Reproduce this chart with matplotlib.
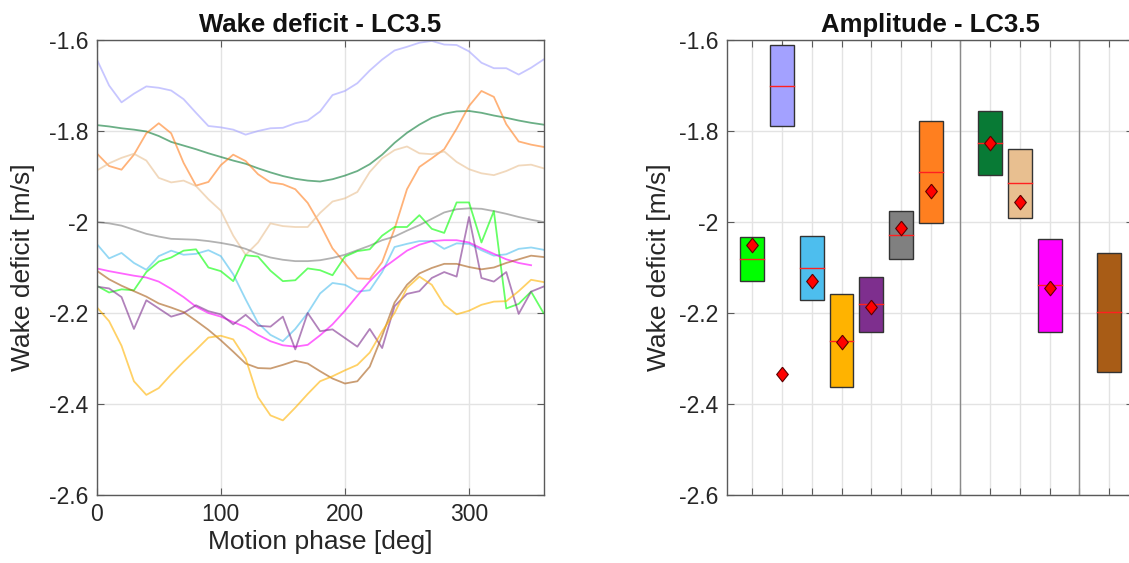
import numpy as np
import matplotlib
matplotlib.use("Agg")
import matplotlib.pyplot as plt
from matplotlib.ticker import FuncFormatter
from matplotlib.patches import Rectangle

plt.rcParams['font.family'] = ['Liberation Sans', 'DejaVu Sans']

# ---- phase-resolved wake deficit (m/s), sampled every 10 deg ----
phase = np.arange(0, 361, 10)

wd_lavender = [-1.642, -1.700, -1.737, -1.718, -1.702, -1.705, -1.711, -1.730, -1.760, -1.789,
               -1.792, -1.797, -1.808, -1.800, -1.794, -1.793, -1.783, -1.777, -1.757, -1.721,
               -1.712, -1.695, -1.667, -1.643, -1.623, -1.615, -1.606, -1.602, -1.610, -1.611,
               -1.625, -1.650, -1.662, -1.662, -1.676, -1.661, -1.643]
wd_darkgreen = [-1.787, -1.790, -1.794, -1.797, -1.801, -1.811, -1.824, -1.832, -1.840, -1.849,
                -1.857, -1.865, -1.872, -1.882, -1.891, -1.899, -1.905, -1.909, -1.911, -1.906,
                -1.898, -1.888, -1.873, -1.852, -1.826, -1.804, -1.786, -1.771, -1.762, -1.757,
                -1.756, -1.760, -1.766, -1.771, -1.777, -1.782, -1.786]
wd_orange = [-1.849, -1.877, -1.885, -1.852, -1.805, -1.783, -1.805, -1.870, -1.920, -1.912,
             -1.875, -1.852, -1.866, -1.895, -1.913, -1.917, -1.928, -1.958, -2.005, -2.058,
             -2.090, -2.124, -2.125, -2.088, -2.015, -1.928, -1.879, -1.860, -1.840, -1.795,
             -1.745, -1.712, -1.725, -1.785, -1.823, -1.830, -1.835]
wd_tan = [-1.887, -1.871, -1.859, -1.850, -1.865, -1.903, -1.913, -1.909, -1.921, -1.950,
          -1.975, -2.030, -2.072, -2.045, -2.003, -2.009, -2.011, -2.011, -1.980, -1.955,
          -1.948, -1.934, -1.890, -1.860, -1.842, -1.834, -1.849, -1.851, -1.845, -1.868,
          -1.884, -1.893, -1.897, -1.888, -1.876, -1.874, -1.882]
wd_gray = [-2.000, -2.003, -2.008, -2.017, -2.026, -2.032, -2.037, -2.038, -2.039, -2.042,
           -2.046, -2.051, -2.059, -2.070, -2.078, -2.083, -2.086, -2.086, -2.084, -2.079,
           -2.072, -2.062, -2.052, -2.040, -2.032, -2.019, -2.007, -1.993, -1.979, -1.972,
           -1.970, -1.971, -1.976, -1.982, -1.989, -1.995, -2.000]
wd_skyblue = [-2.048, -2.080, -2.068, -2.090, -2.105, -2.075, -2.063, -2.072, -2.070, -2.062,
              -2.075, -2.115, -2.170, -2.222, -2.248, -2.262, -2.235, -2.200, -2.157, -2.134,
              -2.138, -2.153, -2.150, -2.110, -2.055, -2.048, -2.042, -2.042, -2.059, -2.047,
              -2.048, -2.062, -2.074, -2.071, -2.059, -2.056, -2.061]
wd_green = [-2.140, -2.155, -2.148, -2.150, -2.110, -2.087, -2.078, -2.063, -2.060, -2.100,
            -2.108, -2.130, -2.073, -2.076, -2.107, -2.130, -2.128, -2.102, -2.106, -2.117,
            -2.076, -2.064, -2.060, -2.030, -2.011, -2.011, -1.985, -2.015, -2.024, -1.957,
            -1.957, -2.045, -1.976, -2.190, -2.180, -2.153, -2.200]
wd_magenta = [-2.102, -2.108, -2.113, -2.118, -2.122, -2.131, -2.147, -2.165, -2.186, -2.200,
              -2.208, -2.220, -2.231, -2.248, -2.262, -2.271, -2.274, -2.270, -2.249, -2.225,
              -2.195, -2.162, -2.130, -2.103, -2.083, -2.063, -2.050, -2.042, -2.040, -2.040,
              -2.045, -2.058, -2.070, -2.082, -2.090, -2.095, np.nan]
wd_purple = [-2.142, -2.146, -2.165, -2.235, -2.172, -2.190, -2.208, -2.200, -2.183, -2.196,
             -2.203, -2.225, -2.204, -2.228, -2.230, -2.208, -2.280, -2.200, -2.240, -2.236,
             -2.255, -2.274, -2.235, -2.277, -2.185, -2.158, -2.152, -2.123, -2.110, -2.120,
             -1.989, -2.123, -2.131, -2.110, -2.202, -2.153, -2.142]
wd_brown = [-2.107, -2.126, -2.140, -2.152, -2.164, -2.179, -2.188, -2.198, -2.217, -2.237,
            -2.260, -2.285, -2.311, -2.321, -2.322, -2.314, -2.305, -2.311, -2.328, -2.344,
            -2.355, -2.350, -2.318, -2.250, -2.177, -2.138, -2.113, -2.101, -2.092, -2.092,
            -2.099, -2.104, -2.100, -2.090, -2.082, -2.074, -2.077]
wd_yellow = [-2.187, -2.218, -2.272, -2.350, -2.380, -2.365, -2.335, -2.307, -2.281, -2.254,
             -2.250, -2.258, -2.300, -2.385, -2.425, -2.436, -2.408, -2.378, -2.350, -2.339,
             -2.326, -2.314, -2.287, -2.240, -2.200, -2.145, -2.120, -2.138, -2.182, -2.203,
             -2.195, -2.182, -2.175, -2.174, -2.152, -2.127, -2.132]

# ---- amplitude summary per case ----
case_names = ['green', 'lavender', 'skyblue', 'yellow', 'purple', 'gray', 'orange',
              'darkgreen', 'tan', 'magenta', 'brown']
case_pos = [1, 2, 3, 4, 5, 6, 7, 9, 10, 11, 13]
box_low = [-2.129, -1.788, -2.172, -2.363, -2.241, -2.081, -2.002, -1.897, -1.991, -2.242, -2.329]
box_high = [-2.034, -1.612, -2.030, -2.159, -2.120, -1.976, -1.778, -1.756, -1.839, -2.038, -2.069]
box_median = [-2.082, -1.700, -2.102, -2.262, -2.180, -2.028, -1.890, -1.827, -1.915, -2.139, -2.198]
mean_marker = [-2.051, -2.334, -2.130, -2.263, -2.186, -2.013, -1.931, -1.826, -1.957, -2.145, np.nan]
group_dividers = [8, 12]

case_colors = {
    'green': '#00FF00', 'lavender': '#A3A1FF', 'skyblue': '#4DBEEE', 'yellow': '#FFB300',
    'purple': '#7E2F8E', 'gray': '#808080', 'orange': '#FF7F1F', 'darkgreen': '#087A35',
    'tan': '#E8BF90', 'magenta': '#FF00FF', 'brown': '#A85C16',
}
series = {
    'lavender': wd_lavender, 'darkgreen': wd_darkgreen, 'orange': wd_orange, 'tan': wd_tan,
    'gray': wd_gray, 'skyblue': wd_skyblue, 'green': wd_green, 'magenta': wd_magenta,
    'purple': wd_purple, 'brown': wd_brown, 'yellow': wd_yellow,
}

W, H = 1129, 563
fig = plt.figure(figsize=(W / 100, H / 100), dpi=100)

axc = '#5a5a5a'
gridc = '#e3e3e3'
txtc = '#262626'
fmt = FuncFormatter(lambda v, p: '%g' % round(v, 2))


def style_axes(ax):
    for s in ax.spines.values():
        s.set_color(axc)
        s.set_linewidth(1.0)
    ax.tick_params(direction='in', length=5, width=0.8, colors=axc, labelcolor=txtc,
                   labelsize=16.5, top=True, right=True, pad=6)
    ax.grid(True, color=gridc, linewidth=1.0)
    ax.set_axisbelow(True)
    ax.set_ylim(-2.6, -1.6)
    ax.set_yticks(np.arange(-2.6, -1.59, 0.2))
    ax.yaxis.set_major_formatter(fmt)


# left: wake deficit vs motion phase
ax1 = fig.add_axes([96.7 / W, 1 - 495 / H, (543.5 - 96.7) / W, (495 - 40) / H])
style_axes(ax1)
for name, vals in series.items():
    ax1.plot(phase, vals, color=case_colors[name], alpha=0.6, linewidth=1.3)
ax1.set_xlim(0, 360)
ax1.set_xticks([0, 100, 200, 300])
ax1.set_xlabel('Motion phase [deg]', fontsize=19, color=txtc, labelpad=3)
ax1.set_ylabel('Wake deficit [m/s]', fontsize=19, color=txtc, labelpad=10)
ax1.set_title('Wake deficit - LC3.5', fontsize=18.5, fontweight='bold', pad=6, color='#111111')

# right: amplitude boxes
ax2 = fig.add_axes([727 / W, 1 - 495 / H, (1133 - 727) / W, (495 - 40) / H])
style_axes(ax2)
ax2.set_xlim(0.15, 13.8)
ax2.set_xticks(np.arange(1, 14))
ax2.set_xticklabels([])
for d in group_dividers:
    ax2.axvline(d, color='#8a8a8a', linewidth=1.0, zorder=1)
bw = 0.8
for name, p, lo, hi, med, mk in zip(case_names, case_pos, box_low, box_high, box_median, mean_marker):
    ax2.add_patch(Rectangle((p - bw / 2, lo), bw, hi - lo, facecolor=case_colors[name],
                            edgecolor='#333333', linewidth=1.0, zorder=3))
    ax2.plot([p - bw / 2, p + bw / 2], [med, med], color='#ff2020', linewidth=1.0, zorder=4)
    if not np.isnan(mk):
        ax2.plot([p], [mk], marker=[(0, 1), (0.8, 0), (0, -1), (-0.8, 0), (0, 1)],
                 markersize=10.5, markerfacecolor='#ff0000', markeredgecolor='#5a0000',
                 markeredgewidth=0.8, linestyle='none', zorder=5)
ax2.set_ylabel('Wake deficit [m/s]', fontsize=19, color=txtc, labelpad=6)
ax2.set_title('Amplitude - LC3.5', fontsize=18.5, fontweight='bold', pad=6, color='#111111')

fig.savefig('out.png', dpi=100)
